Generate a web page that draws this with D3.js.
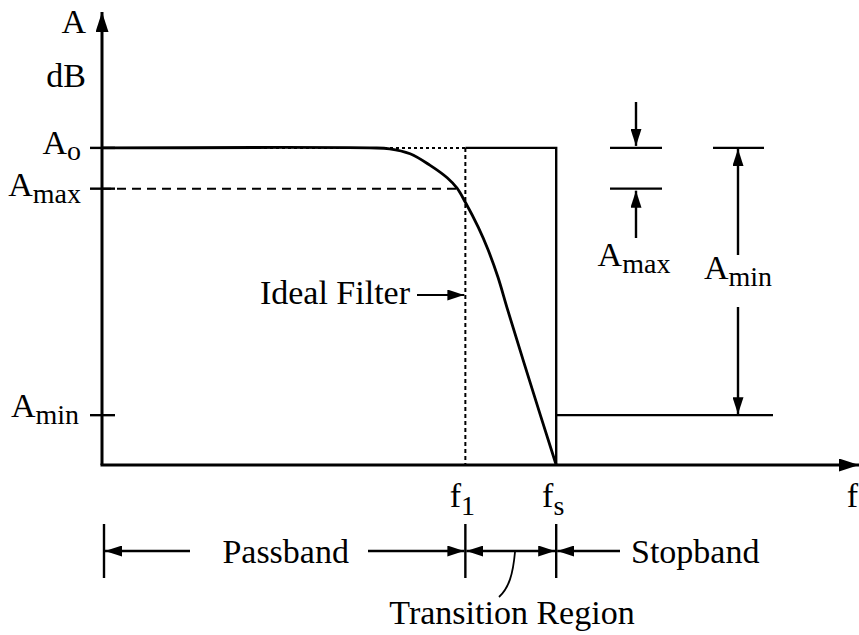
<!DOCTYPE html>
<html>
<head>
<meta charset="utf-8">
<script src="https://cdn.jsdelivr.net/npm/d3@7"></script>
<style>
  html, body { margin: 0; padding: 0; background: #fff; }
  svg text { font-family: "Liberation Serif", "DejaVu Serif", serif; fill: #000; }
</style>
</head>
<body>
<div id="chart"></div>
<script>
// Data (abstract units: frequency 0-100, amplitude 0-100)
const levelNames = ["o", "max", "min"];          // subscripts of A
const levelValues = [70, 61, 11];                // A_o, A_max, A_min
const freqNames = ["1", "s"];                    // subscripts of f
const freqValues = [48, 60];                     // f1, fs
const curveF = [0, 35.4, 38.0, 40.7, 43.3, 45.6, 46.9, 48.0, 49.7, 51.0, 52.3, 53.6, 56.5, 60.0];
const curveA = [70, 70, 69.8, 68.7, 66.2, 63.4, 61.1, 58.0, 52.5, 47.5, 41.5, 34.2, 18.5, 0];
const bandLabels = ["Passband", "Transition Region", "Stopband"];

const width = 859, height = 635;
const fontSize = 34, subSize = 28;

const x = d3.scaleLinear().domain([0, 100]).range([102, 859]);
const y = d3.scaleLinear().domain([0, 100]).range([465, 12]);

const A0 = levelValues[0], Amax = levelValues[1], Amin = levelValues[2];
const f1 = freqValues[0], fs = freqValues[1];

const svg = d3.select("#chart").append("svg")
    .attr("width", width)
    .attr("height", height);

// Arrow markers
const defs = svg.append("defs");
function marker(id, len, wid) {
    defs.append("marker")
        .attr("id", id)
        .attr("markerUnits", "userSpaceOnUse")
        .attr("viewBox", `0 0 ${len} ${wid}`)
        .attr("markerWidth", len)
        .attr("markerHeight", wid)
        .attr("refX", len)
        .attr("refY", wid / 2)
        .attr("orient", "auto-start-reverse")
        .append("path")
        .attr("d", `M0,0 L${len},${wid / 2} L0,${wid} Z`)
        .attr("fill", "#000");
}
marker("axisHead", 20, 13);
marker("head", 17, 11);

const g = svg.append("g");

function line(x1, y1, x2, y2, opts = {}) {
    const l = g.append("line")
        .attr("x1", x1).attr("y1", y1)
        .attr("x2", x2).attr("y2", y2)
        .attr("stroke", "#000")
        .attr("stroke-width", opts.w || 2);
    if (opts.dash) l.attr("stroke-dasharray", opts.dash);
    if (opts.end) l.attr("marker-end", `url(#${opts.end})`);
    if (opts.start) l.attr("marker-start", `url(#${opts.start})`);
    return l;
}

// Subscripted label: main text + subscript
function label(tx, ty, main, sub, anchor, subDy = 8) {
    const t = g.append("text")
        .attr("x", tx).attr("y", ty)
        .attr("text-anchor", anchor || "start")
        .style("font-size", fontSize + "px");
    t.append("tspan").text(main);
    if (sub) {
        t.append("tspan")
            .attr("dy", subDy)
            .style("font-size", subSize + "px")
            .text(sub);
    }
    return t;
}

// Reference lines: dotted ideal filter, dashed A_max
line(x(0), y(A0), x(f1), y(A0), { w: 2, dash: "3 3" });
line(x(f1), y(A0), x(f1), y(0), { w: 2, dash: "4 3" });
line(x(0), y(Amax), x(f1) - 6, y(Amax), { w: 2, dash: "9 6" });

// Ideal filter (solid part)
g.append("path")
    .attr("d", `M${x(f1)},${y(A0)} H${x(fs)} V${y(0)}`)
    .attr("fill", "none")
    .attr("stroke", "#000")
    .attr("stroke-width", 2.4);

// Stopband level A_min
line(x(fs), y(Amin), 773, y(Amin), { w: 2.4 });

// Response curve
const pts = curveF.map((f, i) => [x(f), y(curveA[i])]);
g.append("path")
    .datum(pts)
    .attr("d", d3.line().curve(d3.curveCatmullRom.alpha(0.5)))
    .attr("fill", "none")
    .attr("stroke", "#000")
    .attr("stroke-width", 2.8);

// Axes
line(x(0), y(0), x(0), y(100), { w: 3, end: "axisHead" });
line(x(0) - 1.5, y(0), x(100), y(0), { w: 3, end: "axisHead" });

// y ticks
levelValues.forEach(v => line(x(0) - 12, y(v), x(0) + 13, y(v), { w: 2.4 }));

// Axis labels
g.append("text").attr("x", 86).attr("y", 33).attr("text-anchor", "end")
    .style("font-size", fontSize + "px").text("A");
g.append("text").attr("x", 86).attr("y", 87).attr("text-anchor", "end")
    .style("font-size", fontSize + "px").text("dB");
label(858, 507, "f", null, "end");

// Level labels on the y axis
label(81, y(A0) + 6, "A", levelNames[0], "end", 6);
label(81, y(Amax) + 7, "A", levelNames[1], "end", 7);
label(79, y(Amin) + 2, "A", levelNames[2], "end", 7);

// Frequency labels
freqValues.forEach((f, i) => label(x(f) - 3, 507, "f", freqNames[i], "middle", 8));

// Ideal filter annotation
g.append("text").attr("x", 410).attr("y", 304).attr("text-anchor", "end")
    .style("font-size", fontSize + "px").text("Ideal Filter");
line(417, 295, x(f1) - 1, 295, { w: 2.2, end: "head" });

// A_max bracket (right)
const bx1 = 636;
line(610, y(A0), 662, y(A0), { w: 2.4 });
line(610, y(Amax), 662, y(Amax), { w: 2.4 });
line(bx1, 102, bx1, y(A0) - 2, { w: 2.4, end: "head" });
line(bx1, 238, bx1, y(Amax) + 2, { w: 2.4, end: "head" });
label(bx1 - 2, 266, "A", levelNames[1], "middle", 7);

// A_min bracket (right)
const bx2 = 738;
line(713, y(A0), 764, y(A0), { w: 2.4 });
line(bx2, 255, bx2, y(A0) + 1, { w: 2.4, end: "head" });
line(bx2, 307, bx2, y(Amin) - 1, { w: 2.4, end: "head" });
label(bx2, 279, "A", levelNames[2], "middle", 7);

// Band markers below the axis
const by = 551;
[x(0) + 2, x(f1), x(fs)].forEach(bx => line(bx, 524, bx, 578, { w: 2.4 }));
line(190, by, x(0) + 3, by, { w: 2.4, end: "head" });
line(368, by, x(f1) - 1, by, { w: 2.4, end: "head" });
line(x(f1) + 1, by, x(fs) - 1, by, { w: 2.4, start: "head", end: "head" });
line(620, by, x(fs) + 1, by, { w: 2.4, end: "head" });

g.append("text").attr("x", (x(0) + x(f1)) / 2 + 2).attr("y", 563).attr("text-anchor", "middle")
    .style("font-size", fontSize + "px").text(bandLabels[0]);
g.append("text").attr("x", 631).attr("y", 563)
    .style("font-size", fontSize + "px").text(bandLabels[2]);
g.append("text").attr("x", 512).attr("y", 624).attr("text-anchor", "middle")
    .style("font-size", fontSize + "px").text(bandLabels[1]);

// Leader from transition arrow to its label
g.append("path")
    .attr("d", "M515,552 C513,574 509,588 499,597")
    .attr("fill", "none")
    .attr("stroke", "#000")
    .attr("stroke-width", 1.8);
</script>
</body>
</html>
